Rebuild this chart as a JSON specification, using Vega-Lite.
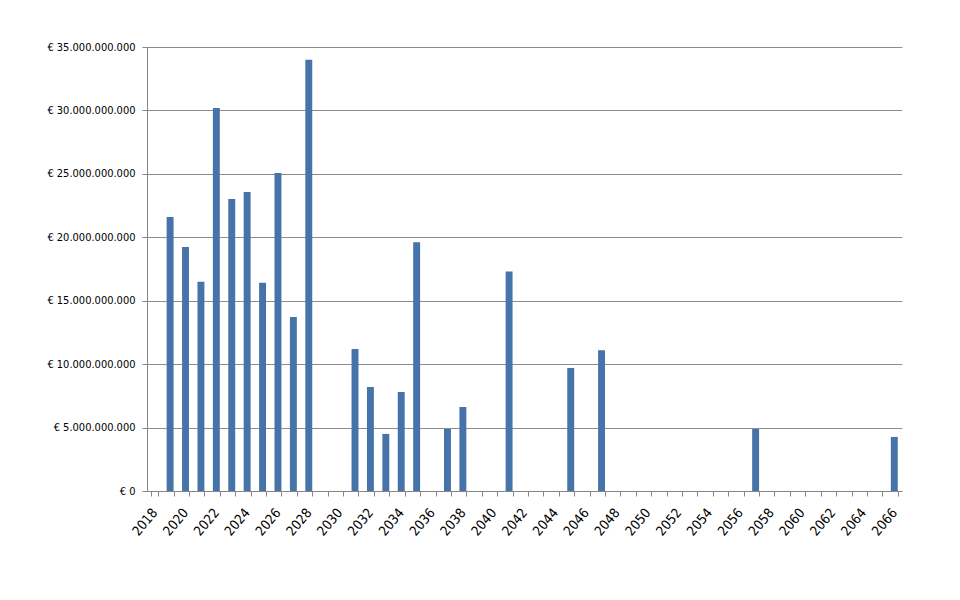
{
  "$schema": "https://vega.github.io/schema/vega-lite/v6.json",
  "width": 755,
  "height": 444,
  "autosize": {"type": "none"},
  "padding": {"left": 147, "top": 47, "right": 58, "bottom": 109},
  "background": "white",
  "config": {
    "view": {"stroke": null},
    "font": "DejaVu Sans Condensed, Roboto, sans-serif",
    "axis": {"labelFont": "DejaVu Sans Condensed, Roboto, sans-serif", "labelColor": "#000000"}
  },
  "data": {
    "values": [
      {"year": 2019, "value": 21600000000},
      {"year": 2020, "value": 19230000000},
      {"year": 2021, "value": 16500000000},
      {"year": 2022, "value": 30200000000},
      {"year": 2023, "value": 23020000000},
      {"year": 2024, "value": 23570000000},
      {"year": 2025, "value": 16420000000},
      {"year": 2026, "value": 25070000000},
      {"year": 2027, "value": 13720000000},
      {"year": 2028, "value": 34000000000},
      {"year": 2031, "value": 11200000000},
      {"year": 2032, "value": 8200000000},
      {"year": 2033, "value": 4500000000},
      {"year": 2034, "value": 7800000000},
      {"year": 2035, "value": 19600000000},
      {"year": 2037, "value": 4890000000},
      {"year": 2038, "value": 6620000000},
      {"year": 2041, "value": 17300000000},
      {"year": 2045, "value": 9700000000},
      {"year": 2047, "value": 11100000000},
      {"year": 2057, "value": 4890000000},
      {"year": 2066, "value": 4260000000}
    ]
  },
  "mark": {"type": "bar", "color": "#4674AA"},
  "encoding": {
    "x": {
      "field": "year",
      "type": "ordinal",
      "scale": {
        "domain": [2018,2019,2020,2021,2022,2023,2024,2025,2026,2027,2028,2029,2030,2031,2032,2033,2034,2035,2036,2037,2038,2039,2040,2041,2042,2043,2044,2045,2046,2047,2048,2049,2050,2051,2052,2053,2054,2055,2056,2057,2058,2059,2060,2061,2062,2063,2064,2065,2066],
        "paddingInner": 0.55,
        "paddingOuter": 0.275
      },
      "axis": {
        "title": null,
        "labelExpr": "datum.value % 2 == 0 ? datum.label : ''",
        "labelAngle": -50,
        "labelAlign": "right",
        "labelBaseline": "middle",
        "labelFontSize": 13.5,
        "labelPadding": 14,
        "tickBand": "extent",
        "tickSize": 5,
        "tickColor": "#868686",
        "domainColor": "#868686",
        "labelOverlap": false,
        "grid": false
      }
    },
    "y": {
      "field": "value",
      "type": "quantitative",
      "scale": {"domain": [0, 35000000000], "nice": false},
      "axis": {
        "title": null,
        "values": [0, 5000000000, 10000000000, 15000000000, 20000000000, 25000000000, 30000000000, 35000000000],
        "labelExpr": "'€ ' + replace(format(datum.value, ','), regexp(',', 'g'), '.')",
        "labelFontSize": 11,
        "labelPadding": 7,
        "tickSize": 5,
        "tickColor": "#868686",
        "domainColor": "#868686",
        "grid": true,
        "gridColor": "#8c8c8c",
        "gridWidth": 1
      }
    }
  }
}
